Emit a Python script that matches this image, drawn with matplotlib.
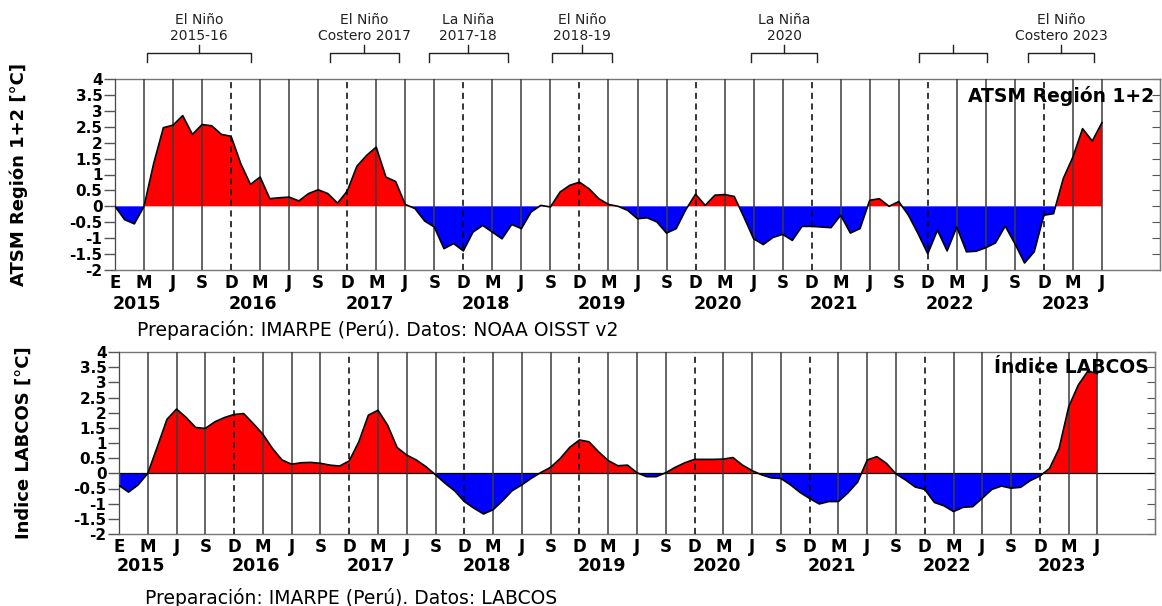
import numpy as np
import matplotlib
matplotlib.use("Agg")
import matplotlib.pyplot as plt
import matplotlib.transforms as mtransforms

# monthly anomalies, Jan 2015 .. Jul 2023 (index 0..102)
atsm = [0.0, -0.42, -0.55, 0.0, 1.35, 2.47, 2.55, 2.85, 2.26, 2.57,
        2.53, 2.26, 2.2, 1.34, 0.69, 0.92, 0.24, 0.27, 0.29, 0.17,
        0.4, 0.52, 0.4, 0.1, 0.48, 1.26, 1.6, 1.86, 0.92, 0.78,
        0.06, -0.07, -0.46, -0.65, -1.33, -1.17, -1.4, -0.81, -0.6, -0.81,
        -1.02, -0.57, -0.7, -0.18, 0.03, -0.02, 0.45, 0.66, 0.76, 0.55,
        0.24, 0.06, 0.0, -0.13, -0.39, -0.36, -0.49, -0.84, -0.7, -0.1,
        0.38, 0.03, 0.35, 0.37, 0.31, -0.34, -1.02, -1.2, -0.98, -0.88,
        -1.07, -0.63, -0.63, -0.65, -0.67, -0.28, -0.84, -0.7, 0.19, 0.24,
        0.0, 0.15, -0.28, -0.86, -1.49, -0.75, -1.4, -0.65, -1.43, -1.41,
        -1.3, -1.15, -0.62, -1.17, -1.78, -1.43, -0.28, -0.23, 0.87, 1.55,
        2.44, 2.05, 2.63]

labcos = [-0.4, -0.62, -0.38, 0.0, 0.88, 1.78, 2.12, 1.84, 1.51, 1.48,
          1.7, 1.84, 1.94, 1.97, 1.64, 1.29, 0.82, 0.44, 0.3, 0.35,
          0.36, 0.33, 0.27, 0.24, 0.41, 1.04, 1.92, 2.08, 1.59, 0.85,
          0.6, 0.44, 0.22, -0.05, -0.33, -0.58, -0.93, -1.15, -1.34, -1.2,
          -0.9, -0.57, -0.38, -0.16, 0.03, 0.2, 0.49, 0.86, 1.1, 1.04,
          0.71, 0.42, 0.25, 0.27, 0.02, -0.11, -0.11, 0.02, 0.2, 0.35,
          0.46, 0.46, 0.46, 0.47, 0.52, 0.27, 0.09, -0.05, -0.15, -0.17,
          -0.38, -0.63, -0.83, -1.01, -0.93, -0.93, -0.64, -0.29, 0.44, 0.55,
          0.33, -0.02, -0.22, -0.45, -0.53, -0.96, -1.07, -1.26, -1.12, -1.1,
          -0.82, -0.53, -0.42, -0.49, -0.46, -0.24, -0.09, 0.16, 0.82, 2.19,
          2.91, 3.37, 3.29]

month_letters = ["E", "M", "J", "S", "D", "M", "J", "S", "D", "M", "J", "S",
                 "D", "M", "J", "S", "D", "M", "J", "S", "D", "M", "J", "S",
                 "D", "M", "J", "S", "D", "M", "J", "S", "D", "M", "J"]
years = ["2015", "2016", "2017", "2018", "2019", "2020", "2021", "2022", "2023"]
yticks = [4, 3.5, 3, 2.5, 2, 1.5, 1, 0.5, 0, -0.5, -1, -1.5, -2]

# events marked above the first panel (start, end in month index)
ev_start = [3.3, 22.2, 32.4, 45.2, 65.7, 83.1, 94.4]
ev_end = [14.1, 29.3, 40.6, 51.4, 72.6, 90.1, 101.2]
ev_label = ["El Niño\n2015-16", "El Niño\nCostero 2017", "La Niña\n2017-18",
            "El Niño\n2018-19", "La Niña\n2020", "", "El Niño\nCostero 2023"]

W, H = 1162, 606
fig = plt.figure(figsize=(W / 100, H / 100), dpi=100)


def box(x0, y0, x1, y1):
    return [x0 / W, 1 - y1 / H, (x1 - x0) / W, (y1 - y0) / H]


ax1 = fig.add_axes(box(115, 79, 1160, 270))
ax2 = fig.add_axes(box(119, 352, 1155, 534))


def panel(ax, vals, ylabel, title, zero_line):
    x = np.arange(len(vals))
    y = np.array(vals)
    ax.fill_between(x, y, 0, where=y >= 0, interpolate=True, color="#ff0000", lw=0, zorder=1)
    ax.fill_between(x, y, 0, where=y <= 0, interpolate=True, color="#0000ff", lw=0, zorder=1)
    ax.plot(x, y, color="black", lw=1.2, zorder=4)
    if zero_line:
        ax.axhline(0, color="black", lw=0.9, zorder=2)

    tick_pos = np.arange(0, len(month_letters) * 3, 3)
    for p, lab in zip(tick_pos, month_letters):
        if lab == "D":
            ax.axvline(p, color="black", lw=1.1, ls=(0, (4, 3)), zorder=3)
        else:
            ax.axvline(p, color="#3c3c3c", lw=1.1, zorder=3)

    ax.set_xlim(0, 108)
    ax.set_ylim(-2, 4)
    ax.set_xticks(tick_pos)
    ax.set_xticklabels(month_letters, fontsize=12, fontweight="bold")
    ax.tick_params(axis="x", length=0, pad=3)
    ax.set_yticks(yticks)
    ax.set_yticklabels([f"{v:g}" for v in yticks], fontsize=11, fontweight="bold")
    ax.tick_params(axis="y", length=8, width=1, color="#555555", pad=1)
    for s in ax.spines.values():
        s.set_color("#777777")
        s.set_linewidth(1)

    sec = ax.secondary_yaxis("right")
    sec.set_yticks(yticks)
    sec.tick_params(direction="in", length=6, color="#555555", labelright=False)
    sec.spines["right"].set_color("#555555")

    trans = mtransforms.blended_transform_factory(ax.transData, ax.transAxes)
    for i, yr in enumerate(years):
        ax.text(2.3 + 12 * i, -0.178, yr, transform=trans, ha="center", va="center",
                fontsize=12.5, fontweight="bold")

    ax.set_ylabel(ylabel, fontsize=13, fontweight="bold")
    ax.yaxis.set_label_coords(-0.083, 0.5)
    ax.text(0.994, 0.965, title, transform=ax.transAxes, ha="right", va="top",
            fontsize=13.5, fontweight="bold", zorder=6)


panel(ax1, atsm, "ATSM Región 1+2 [°C]", "ATSM Región 1+2", False)
panel(ax2, labcos, "Indice LABCOS [°C]", "Índice LABCOS", True)

# event brackets above the first panel
trans = mtransforms.blended_transform_factory(ax1.transData, ax1.transAxes)
for s, e, lab in zip(ev_start, ev_end, ev_label):
    c = (s + e) / 2
    ax1.plot([s, s, e, e], [1.089, 1.138, 1.138, 1.089], color="#222222", lw=1,
             transform=trans, clip_on=False)
    ax1.plot([c, c], [1.138, 1.178], color="#222222", lw=1, transform=trans, clip_on=False)
    if lab:
        ax1.text(c, 1.19, lab, transform=trans, ha="center", va="bottom", fontsize=10,
                 color="#222222", linespacing=1.15)

fig.text(137 / W, 1 - 330 / H, "Preparación: IMARPE (Perú). Datos: NOAA OISST v2",
         fontsize=13.5, va="center", ha="left")
fig.text(145 / W, 1 - 598 / H, "Preparación: IMARPE (Perú). Datos: LABCOS",
         fontsize=13.5, va="center", ha="left")

fig.savefig("out.png", dpi=100)
